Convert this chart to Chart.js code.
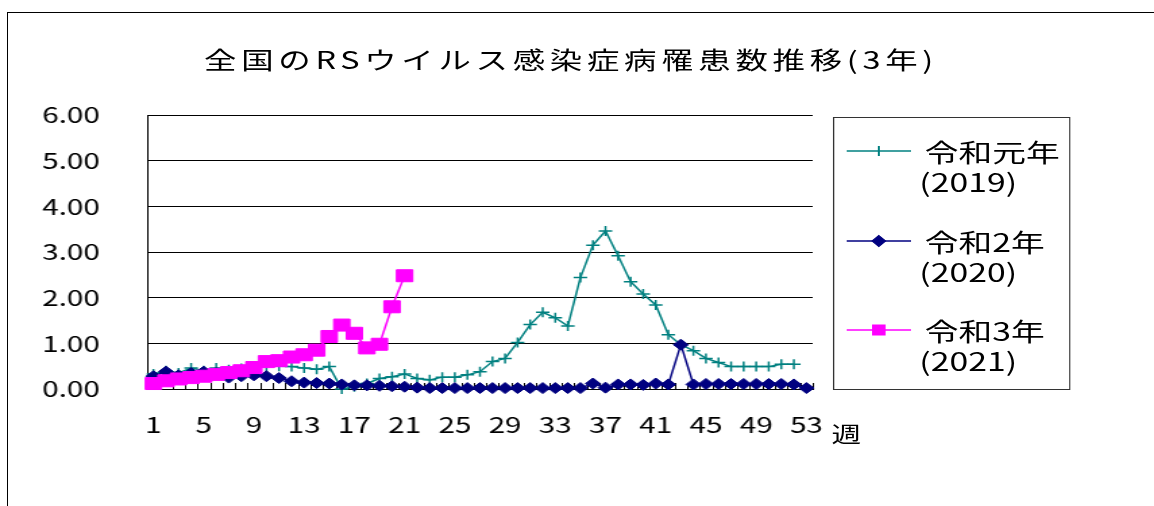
<!DOCTYPE html>
<html lang="ja">
<head>
<meta charset="UTF-8">
<title>全国のRSウイルス感染症病罹患数推移(3年)</title>
<script src="https://cdn.jsdelivr.net/npm/chart.js"></script>
<style>
  body {
    margin: 0;
    padding: 0;
    background: #fff;
    overflow: hidden;
    font-family: "Noto Sans CJK JP", sans-serif;
    color: #000;
  }
  /* outer chart frame, runs off the right and bottom edge */
  .frame {
    position: absolute;
    left: 7px;
    top: 12px;
    width: 1300px;
    height: 700px;
    border: 1px solid #000;
  }
  /* the reference is stretched sideways, so draw narrow and widen */
  .stretch {
    position: absolute;
    left: 0;
    top: 0;
    width: 855px;
    height: 506px;
    transform: scaleX(1.35);
    transform-origin: 0 0;
  }
  canvas { position: absolute; left: 0; top: 0; }
  .title {
    position: absolute;
    left: 0;
    top: 44px;
    width: 846px;
    text-align: center;
    font-size: 24px;
    line-height: 30px;
    letter-spacing: 3.5px;
    white-space: nowrap;
  }
  .unit {
    position: absolute;
    left: 616px;
    top: 419px;
    font-size: 22px;
    line-height: 26px;
  }
  .legend {
    position: absolute;
    left: 617px;
    top: 117px;
    width: 176px;
    height: 273px;
    border: 1px solid #333;
    box-sizing: border-box;
  }
  .legend svg { position: absolute; left: 9px; }
  .legend .name, .legend .year {
    position: absolute;
    font-size: 25px;
    line-height: 30px;
    white-space: nowrap;
  }
  .legend .name { left: 67px; }
  .legend .year { left: 63px; }
</style>
</head>
<body>
<div class="frame"></div>
<div class="stretch">
  <canvas id="rsChart" width="855" height="506"></canvas>
  <div class="title">全国のRSウイルス感染症病罹患数推移(3年)</div>
  <div class="unit">週</div>
  <div class="legend" id="legend"></div>
</div>

<script>
// 週
const weeks = ['1','2','3','4','5','6','7','8','9','10','11','12','13','14','15','16','17','18','19','20',
  '21','22','23','24','25','26','27','28','29','30','31','32','33','34','35','36','37','38','39','40',
  '41','42','43','44','45','46','47','48','49','50','51','52','53'];

// 令和元年 (2019)
const r1 = [0.33,0.40,0.35,0.46,0.40,0.46,0.42,0.45,0.48,0.50,0.50,0.49,0.46,0.43,0.49,0.00,0.05,0.12,0.23,0.27,
  0.33,0.23,0.20,0.26,0.26,0.31,0.38,0.60,0.67,1.02,1.41,1.68,1.56,1.38,2.44,3.15,3.46,2.92,2.35,2.08,
  1.84,1.19,0.97,0.84,0.67,0.58,0.49,0.49,0.49,0.49,0.54,0.54];

// 令和2年 (2020)
const r2 = [0.28,0.38,0.30,0.35,0.38,0.35,0.25,0.28,0.30,0.28,0.24,0.17,0.14,0.13,0.12,0.10,0.08,0.08,0.07,0.06,
  0.05,0.03,0.02,0.02,0.02,0.02,0.02,0.02,0.02,0.02,0.02,0.02,0.02,0.02,0.02,0.12,0.03,0.10,0.10,0.09,
  0.12,0.10,0.97,0.10,0.11,0.11,0.11,0.11,0.11,0.11,0.11,0.10,0.02];

// 令和3年 (2021)
const r3 = [0.12,0.18,0.22,0.25,0.28,0.32,0.36,0.40,0.47,0.60,0.62,0.70,0.75,0.85,1.15,1.40,1.22,0.90,0.98,1.80,
  2.48];

const seriesNames = ['令和元年', '令和2年', '令和3年'];
const seriesYears = ['(2019)', '(2020)', '(2021)'];
const yTicks = [0, 1, 2, 3, 4, 5, 6];

const fontFamily = '"Noto Sans CJK JP", sans-serif';

// small tick marks between categories, pointing up into the plot
const innerTicks = {
  id: 'innerTicks',
  beforeDatasetsDraw(chart) {
    const x = chart.scales.x;
    const ctx = chart.ctx;
    const bottom = chart.chartArea.bottom;
    ctx.save();
    ctx.strokeStyle = '#000';
    ctx.lineWidth = 1;
    ctx.beginPath();
    for (let i = 0; i <= weeks.length; i++) {
      const px = Math.round(x.getPixelForValue(i - 0.5)) + 0.5;
      ctx.moveTo(px, bottom);
      ctx.lineTo(px, bottom - 6);
    }
    ctx.stroke();
    ctx.restore();
  }
};

const ctx = document.getElementById('rsChart').getContext('2d');
new Chart(ctx, {
  type: 'line',
  data: {
    labels: weeks,
    datasets: [
      {
        label: seriesNames[0] + seriesYears[0],
        data: r1,
        borderColor: '#008080',
        backgroundColor: '#008080',
        borderWidth: 1.5,
        pointStyle: 'cross',
        pointRadius: 5,
        pointBorderWidth: 1.5,
        order: 2,
        clip: false
      },
      {
        label: seriesNames[1] + seriesYears[1],
        data: r2,
        borderColor: '#000080',
        backgroundColor: '#000080',
        borderWidth: 1.5,
        pointStyle: 'rectRot',
        pointRadius: 5.5,
        pointBorderWidth: 1,
        order: 1,
        clip: false
      },
      {
        label: seriesNames[2] + seriesYears[2],
        data: r3,
        borderColor: '#ff00ff',
        backgroundColor: '#ff00ff',
        borderWidth: 1.5,
        pointStyle: 'rect',
        pointRadius: 8.5,
        pointBorderWidth: 1,
        order: 0,
        clip: false
      }
    ]
  },
  options: {
    responsive: false,
    animation: false,
    layout: { padding: { left: 0, right: 253, top: 115, bottom: 0 } },
    plugins: {
      legend: { display: false },
      title: { display: false },
      tooltip: { enabled: false }
    },
    scales: {
      x: {
        offset: true,
        grid: { display: false, drawTicks: false },
        border: { display: true, color: '#000', width: 1 },
        ticks: {
          autoSkip: false,
          maxRotation: 0,
          padding: 22,
          color: '#000',
          font: { size: 22, family: fontFamily },
          callback: (v, i) => (i % 4 === 0 ? weeks[i] : '')
        },
        afterFit: s => { s.height = 117; }
      },
      y: {
        min: yTicks[0],
        max: yTicks[yTicks.length - 1],
        afterBuildTicks: s => { s.ticks = yTicks.map(v => ({ value: v })); },
        grid: { color: '#000', lineWidth: 1, drawTicks: false },
        border: { display: true, color: '#000', width: 1 },
        ticks: {
          padding: 35,
          color: '#000',
          font: { size: 22, family: fontFamily },
          callback: v => Number(v).toFixed(2)
        },
        afterFit: s => { s.width = 109; }
      }
    }
  },
  plugins: [innerTicks]
});

// legend: line sample with its marker, name and year on two lines
const legendTops = [33, 123, 212];
const sampleColors = ['#008080', '#000080', '#ff00ff'];
const sampleMarks = [
  '<path d="M24 3 V13" stroke-width="1.5"/>',
  '<path d="M24 2.5 L29 8 L24 13.5 L19 8 Z" stroke-width="1"/>',
  '<rect x="19.5" y="3" width="9" height="10" stroke-width="1"/>'
];
const legendBox = document.getElementById('legend');
seriesNames.forEach((name, i) => {
  const c = sampleColors[i];
  const cy = legendTops[i];
  legendBox.insertAdjacentHTML('beforeend',
    '<svg width="48" height="16" style="top:' + (cy - 8) + 'px">' +
      '<g stroke="' + c + '" fill="' + c + '">' +
      '<line x1="0" y1="8" x2="48" y2="8" stroke-width="1.5"/>' + sampleMarks[i] +
      '</g></svg>' +
    '<div class="name" style="top:' + (cy - 15) + 'px">' + name + '</div>' +
    '<div class="year" style="top:' + (cy + 15) + 'px">' + seriesYears[i] + '</div>');
});
</script>
</body>
</html>
